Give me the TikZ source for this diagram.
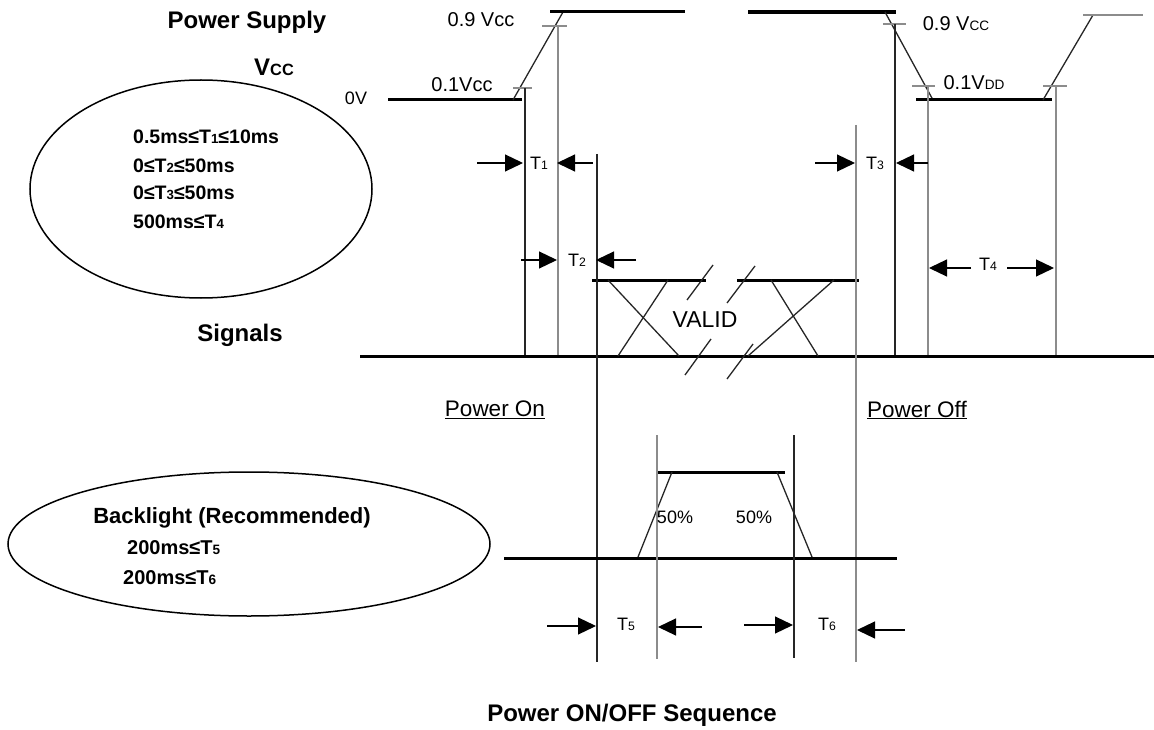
\documentclass[tikz,border=0pt]{standalone}
\usepackage{fontspec}
\setmainfont{Liberation Sans}
\usetikzlibrary{arrows.meta}
\newcommand{\lo}[1]{{\fontsize{\the\dimexpr0.68\fontdimen6\font\relax}{0pt}\selectfont #1}}
\tikzset{
  wave/.style={line width=3pt},
  guide/.style={line width=1.3pt, black!85},
  greyline/.style={line width=1.3pt, black!45},
  dimarrow/.style={line width=1.2pt, -{Triangle[length=18pt,width=17pt]}},
  lbl/.style={font=\fontsize{20}{24}\selectfont, inner sep=0pt},
  head/.style={font=\bfseries\fontsize{24}{28}\selectfont, inner sep=0pt},
  cond/.style={font=\bfseries\fontsize{19.5}{23}\selectfont, inner sep=0pt, anchor=west},
}
\begin{document}
\begin{tikzpicture}[x=1pt,y=-1pt]
  \useasboundingbox (0,0) rectangle (1154,730);
  \node[head] (supply) at (247,22) {Power Supply};
  \node[head] (vcc) at (274,67) {V\lo{CC}};
  \node[lbl,font=\fontsize{18}{22}\selectfont] (zero) at (356,98) {0V};
  \node[head] (signals) at (240,335) {Signals};
  \node[head] (title) at (632,715) {Power ON/OFF Sequence};

  \draw[line width=1.5pt] (201,189) ellipse [x radius=171pt, y radius=109pt];
  \node[cond] (c1) at (133,137) {0.5ms≤T\lo{1}≤10ms};
  \node[cond] (c2) at (133,166) {0≤T\lo{2}≤50ms};
  \node[cond] (c3) at (133,193) {0≤T\lo{3}≤50ms};
  \node[cond] (c4) at (133,222) {500ms≤T\lo{4}};

  \draw[line width=1.5pt] (249,544) ellipse [x radius=241pt, y radius=72pt];
  \node[head,font=\bfseries\fontsize{22}{26}\selectfont] (bl) at (232,518) {Backlight (Recommended)};
  \node[cond,font=\bfseries\fontsize{20}{24}\selectfont] (c5) at (127,548) {200ms≤T\lo{5}};
  \node[cond,font=\bfseries\fontsize{20}{24}\selectfont] (c6) at (123,578) {200ms≤T\lo{6}};

  % power on ramp
  \draw[wave] (388,100) -- (522,100); \draw[guide] (513,100) -- (563,12); \draw[wave] (550,12) -- (685,12);
  \draw[greyline] (542,26) -- (567,26); \draw[greyline] (513,88) -- (532,88);
  \draw[guide] (525,88) -- (525,356); \draw[greyline] (558,26) -- (558,356);
  \node[lbl] (on9) at (481,20) {0.9 Vcc}; \node[lbl] (on1) at (462,85) {0.1Vcc};

  % power off ramp
  \draw[line width=4.5pt] (748,12) -- (896,12); \draw[guide] (885,12) -- (933,100);
  \draw[wave] (916,100) -- (1052,100); \draw[guide] (1043,100) -- (1093,15); \draw[greyline] (1083,15) -- (1143,15);
  \draw[greyline] (883,24) -- (906,24); \draw[greyline] (912,86) -- (935,86); \draw[greyline] (1043,86) -- (1067,86);
  \draw[guide] (895,24) -- (895,356); \draw[greyline] (928,86) -- (928,356); \draw[greyline] (1056,86) -- (1056,356);
  \node[lbl] (off9) at (956,24) {0.9 V\lo{CC}}; \node[lbl] (off1) at (974,83) {0.1V\lo{DD}};

  % signals
  \draw[wave] (360,356) -- (1154,356);
  \draw[wave] (592,280) -- (706,280); \draw[wave] (737,280) -- (859,280);
  \draw[guide] (608,280) -- (679,356); \draw[guide] (668,280) -- (618,356);
  \draw[guide] (771,280) -- (818,356); \draw[guide] (834,280) -- (748,356);
  \draw[guide] (687,300) -- (713,265); \draw[guide] (727,303) -- (755,266);
  \draw[guide] (685,375) -- (711,339); \draw[guide] (727,379) -- (753,344);
  \draw[guide] (597,154) -- (597,662); \draw[greyline] (856,125) -- (856,662);
  \node[lbl,font=\fontsize{23}{27}\selectfont] (valid) at (705,320) {VALID};
  \node[lbl,font=\fontsize{22.5}{27}\selectfont] (pon) at (495,410) {\underline{Power On}};
  \node[lbl,font=\fontsize{22.5}{27}\selectfont] (poff) at (917,410) {\underline{Power Off}};

  % backlight
  \draw[wave] (504,558) -- (897,558); \draw[wave] (656,472) -- (785,472);
  \draw[guide] (638,557) -- (672,472); \draw[guide] (777,472) -- (812,557);
  \draw[greyline] (657,435) -- (657,659); \draw[guide] (794,435) -- (794,658);
  \node[lbl,font=\fontsize{18}{22}\selectfont] (h1) at (675,517) {50\%};
  \node[lbl,font=\fontsize{18}{22}\selectfont] (h2) at (754,517) {50\%};

  % timing marks
  \draw[dimarrow] (477,163) -- (523,163); \draw[dimarrow] (593,163) -- (557,163);
  \draw[dimarrow] (521,260) -- (557,260); \draw[dimarrow] (636,260) -- (596,260);
  \draw[dimarrow] (815,163) -- (855,163); \draw[dimarrow] (928,163) -- (896,163);
  \draw[dimarrow] (971,268) -- (929,268); \draw[dimarrow] (1007,268) -- (1054,268);
  \draw[dimarrow] (547,626) -- (596,626); \draw[dimarrow] (702,627) -- (658,627);
  \draw[dimarrow] (744,625) -- (793,625); \draw[dimarrow] (905,630) -- (857,630);
  \node[lbl,font=\fontsize{18}{22}\selectfont] (t1) at (539,163) {T\lo{1}};
  \node[lbl,font=\fontsize{18}{22}\selectfont] (t2) at (577,260) {T\lo{2}};
  \node[lbl,font=\fontsize{18}{22}\selectfont] (t3) at (875,163) {T\lo{3}};
  \node[lbl,font=\fontsize{18}{22}\selectfont] (t4) at (988,264) {T\lo{4}};
  \node[lbl,font=\fontsize{18}{22}\selectfont] (t5) at (626,624) {T\lo{5}};
  \node[lbl,font=\fontsize{18}{22}\selectfont] (t6) at (827,624) {T\lo{6}};
\end{tikzpicture}
\end{document}
